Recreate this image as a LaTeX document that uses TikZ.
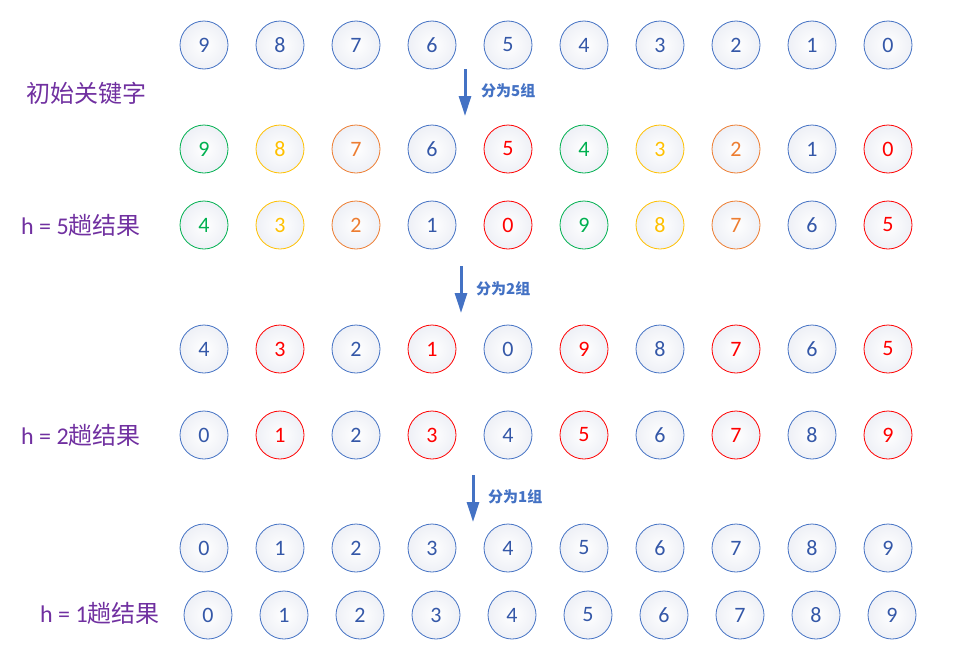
\documentclass[tikz,border=0pt]{standalone}
\usepackage{fontspec}
\setmainfont{Carlito}
\newfontfamily\cjk{Noto Sans CJK SC}
\usetikzlibrary{arrows.meta}
\definecolor{cB}{HTML}{4472C4}
\definecolor{tB}{HTML}{3558A8}
\definecolor{cG}{HTML}{00B050}
\definecolor{cY}{HTML}{FFC000}
\definecolor{cO}{HTML}{ED7D31}
\definecolor{cR}{HTML}{FF0000}
\definecolor{cP}{HTML}{7030A0}
\definecolor{ballin}{HTML}{FFFFFF}
\definecolor{ballout}{HTML}{EEF0F6}
\tikzset{
  ball/.style={circle, minimum size=48pt, inner sep=0pt, line width=0.8pt,
    inner color=ballin, outer color=ballout, font=\fontsize{22}{22}\selectfont},
  B/.style={ball, draw=cB, text=tB},
  G/.style={ball, draw=cG, text=cG},
  Y/.style={ball, draw=cY, text=cY},
  O/.style={ball, draw=cO, text=cO},
  R/.style={ball, draw=cR, text=cR},
  rowlabel/.style={text=cP, font=\fontsize{24}{24}\selectfont, anchor=west, inner sep=0pt},
  grouparrow/.style={draw=cB, line width=3pt, -{Triangle[length=20pt,width=12pt]}},
  grouplabel/.style={text=cB, font=\cjk\bfseries\fontsize{15}{15}\selectfont, anchor=west, inner sep=0pt},
}
\begin{document}
\begin{tikzpicture}[x=1pt,y=-1pt]
\useasboundingbox (0,0) rectangle (957,664);
% row 1
\foreach \d/\c [count=\i] in {9/B,8/B,7/B,6/B,5/B,4/B,3/B,2/B,1/B,0/B}
  \node[\c] (r1c\i) at ({204+76*(\i-1)},45) {\d};
% row 2
\foreach \d/\c [count=\i] in {9/G,8/Y,7/O,6/B,5/R,4/G,3/Y,2/O,1/B,0/R}
  \node[\c] (r2c\i) at ({204+76*(\i-1)},149) {\d};
% row 3
\foreach \d/\c [count=\i] in {4/G,3/Y,2/O,1/B,0/R,9/G,8/Y,7/O,6/B,5/R}
  \node[\c] (r3c\i) at ({204+76*(\i-1)},225) {\d};
% row 4
\foreach \d/\c [count=\i] in {4/B,3/R,2/B,1/R,0/B,9/R,8/B,7/R,6/B,5/R}
  \node[\c] (r4c\i) at ({204+76*(\i-1)},349) {\d};
% row 5
\foreach \d/\c [count=\i] in {0/B,1/R,2/B,3/R,4/B,5/R,6/B,7/R,8/B,9/R}
  \node[\c] (r5c\i) at ({204+76*(\i-1)},435) {\d};
% row 6
\foreach \d/\c [count=\i] in {0/B,1/B,2/B,3/B,4/B,5/B,6/B,7/B,8/B,9/B}
  \node[\c] (r6c\i) at ({204+76*(\i-1)},548) {\d};
% row 7
\foreach \d/\c [count=\i] in {0/B,1/B,2/B,3/B,4/B,5/B,6/B,7/B,8/B,9/B}
  \node[\c] (r7c\i) at ({208+76*(\i-1)},615) {\d};
% row labels
\node[rowlabel] (lab0) at (26,93) {\cjk 初始关键字};
\node[rowlabel] (lab5) at (21,225) {h = 5\cjk 趟结果};
\node[rowlabel] (lab2) at (21,435) {h = 2\cjk 趟结果};
\node[rowlabel] (lab1) at (40,613) {h = 1\cjk 趟结果};
% arrows
\coordinate (a1s) at (465,69);  \coordinate (a1e) at (465,116);
\coordinate (a2s) at (461,266); \coordinate (a2e) at (461,313);
\coordinate (a3s) at (473,475); \coordinate (a3e) at (473,522);
\draw[grouparrow] (a1s) -- (a1e);
\draw[grouparrow] (a2s) -- (a2e);
\draw[grouparrow] (a3s) -- (a3e);
\node[grouplabel] (g1) at (481,91) {分为5组};
\node[grouplabel] (g2) at (476,289) {分为2组};
\node[grouplabel] (g3) at (488,497) {分为1组};
\end{tikzpicture}
\end{document}
